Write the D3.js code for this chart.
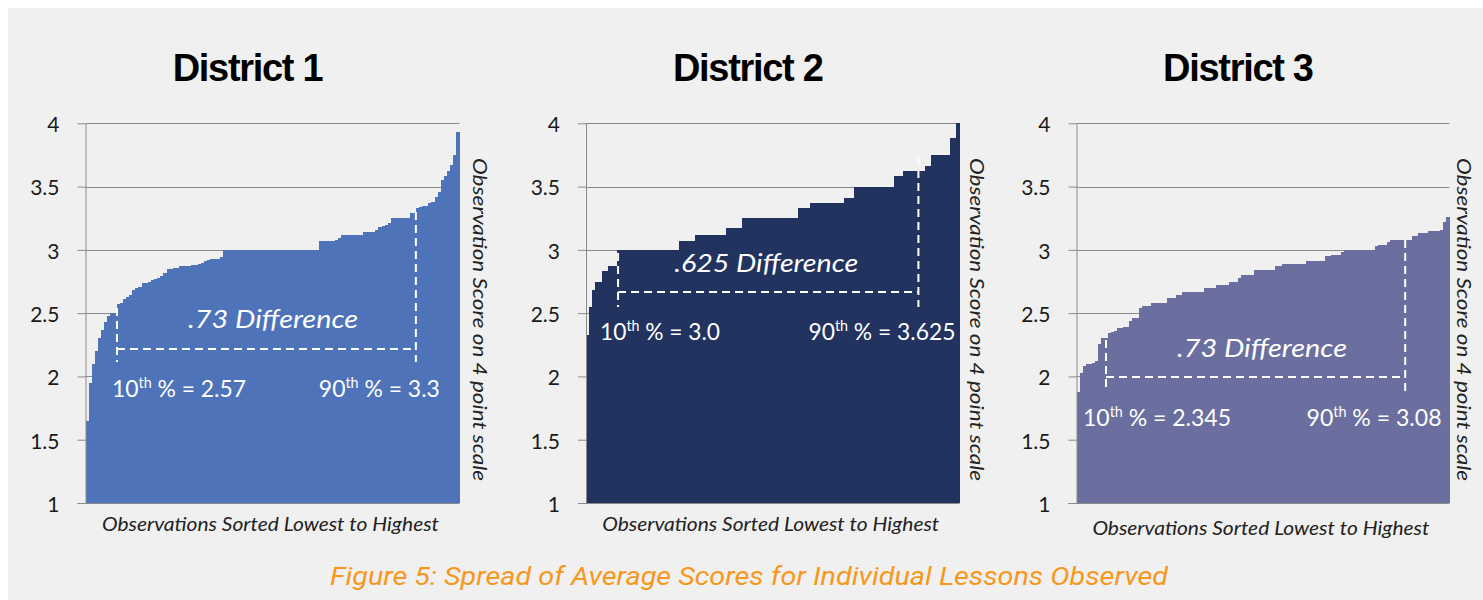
<!DOCTYPE html>
<html><head><meta charset="utf-8">
<script src="https://cdn.jsdelivr.net/npm/d3@7"></script>
<style>html,body{margin:0;padding:0;background:#fff;} svg{display:block}</style>
</head><body><svg id="c" width="1483" height="600"></svg>
<script>
// ---------- DATA ----------
const districtNames = ["District 1", "District 2", "District 3"];
const scoreTicks = [1, 1.5, 2, 2.5, 3, 3.5, 4];
const tickLabels = ["1", "1.5", "2", "2.5", "3", "3.5", "4"];
const xAxisTitle = "Observations Sorted Lowest to Highest";
const yAxisTitle = "Observation Score on 4 point scale";
const captionText = "Figure 5: Spread of Average Scores for Individual Lessons Observed";
const diffLabels = [".73 Difference", ".625 Difference", ".73 Difference"];
const p10Values = ["2.57", "3.0", "2.345"];
const p90Values = ["3.3", "3.625", "3.08"];

// sorted average observation scores (one value per observation)
const district1 = [
  1.65, 1.95, 2.10, 2.20, 2.30, 2.37, 2.43, 2.48, 2.50, 2.50,
  2.57, 2.58, 2.61, 2.63, 2.64, 2.68, 2.70, 2.71, 2.74, 2.74,
  2.75, 2.76, 2.77, 2.78, 2.79, 2.82, 2.85, 2.85, 2.86, 2.86,
  2.87, 2.87, 2.87, 2.87, 2.88, 2.88, 2.89, 2.90, 2.91, 2.92,
  2.93, 2.93, 2.93, 2.94, 3.00, 3.00, 3.00, 3.00, 3.00, 3.00,
  3.00, 3.00, 3.00, 3.00, 3.00, 3.00, 3.00, 3.00, 3.00, 3.00,
  3.00, 3.00, 3.00, 3.00, 3.00, 3.00, 3.00, 3.00, 3.00, 3.00,
  3.00, 3.00, 3.00, 3.00, 3.00, 3.07, 3.07, 3.07, 3.07, 3.07,
  3.08, 3.09, 3.12, 3.12, 3.12, 3.12, 3.12, 3.12, 3.12, 3.14,
  3.14, 3.14, 3.14, 3.16, 3.18, 3.19, 3.20, 3.21, 3.25, 3.25,
  3.25, 3.25, 3.25, 3.25, 3.29, 3.29, 3.33, 3.34, 3.35, 3.35,
  3.37, 3.38, 3.42, 3.46, 3.55, 3.58, 3.62, 3.67, 3.75, 3.93
];
const district2 = [
  2.33, 2.55, 2.68, 2.75, 2.75, 2.83, 2.83, 2.87, 2.87, 2.87,
  3.00, 3.00, 3.00, 3.00, 3.00, 3.00, 3.00, 3.00, 3.00, 3.00,
  3.00, 3.00, 3.00, 3.00, 3.00, 3.00, 3.00, 3.00, 3.00, 3.00,
  3.07, 3.07, 3.07, 3.07, 3.07, 3.12, 3.12, 3.12, 3.12, 3.12,
  3.12, 3.12, 3.12, 3.12, 3.12, 3.17, 3.17, 3.17, 3.17, 3.17,
  3.25, 3.25, 3.25, 3.25, 3.25, 3.25, 3.25, 3.25, 3.25, 3.25,
  3.25, 3.25, 3.25, 3.25, 3.25, 3.25, 3.25, 3.25, 3.33, 3.33,
  3.33, 3.33, 3.37, 3.37, 3.37, 3.37, 3.37, 3.37, 3.37, 3.37,
  3.37, 3.37, 3.37, 3.41, 3.41, 3.41, 3.50, 3.50, 3.50, 3.50,
  3.50, 3.50, 3.50, 3.50, 3.50, 3.50, 3.50, 3.50, 3.50, 3.58,
  3.58, 3.58, 3.62, 3.62, 3.62, 3.62, 3.62, 3.62, 3.62, 3.66,
  3.66, 3.75, 3.75, 3.75, 3.75, 3.75, 3.75, 3.88, 3.88, 4.00
];
const district3 = [
  1.88, 2.03, 2.08, 2.10, 2.10, 2.11, 2.12, 2.26, 2.30, 2.30,
  2.34, 2.35, 2.36, 2.38, 2.38, 2.39, 2.39, 2.44, 2.46, 2.46,
  2.54, 2.56, 2.56, 2.56, 2.58, 2.58, 2.58, 2.58, 2.58, 2.62,
  2.62, 2.62, 2.64, 2.64, 2.67, 2.67, 2.67, 2.67, 2.67, 2.67,
  2.67, 2.70, 2.70, 2.70, 2.70, 2.72, 2.72, 2.72, 2.72, 2.75,
  2.75, 2.75, 2.78, 2.80, 2.80, 2.80, 2.80, 2.84, 2.84, 2.84,
  2.84, 2.84, 2.84, 2.84, 2.87, 2.87, 2.89, 2.89, 2.89, 2.89,
  2.89, 2.89, 2.89, 2.89, 2.91, 2.91, 2.91, 2.91, 2.91, 2.91,
  2.95, 2.95, 2.96, 2.96, 2.96, 2.98, 3.00, 3.00, 3.00, 3.00,
  3.00, 3.00, 3.00, 3.00, 3.00, 3.00, 3.03, 3.04, 3.04, 3.04,
  3.06, 3.08, 3.08, 3.08, 3.08, 3.08, 3.08, 3.08, 3.11, 3.11,
  3.13, 3.13, 3.13, 3.15, 3.15, 3.15, 3.15, 3.16, 3.22, 3.26
];
const series = [district1, district2, district3];

// ---------- LAYOUT ----------
const panels = [
  {x0: 85.5,  x1: 459.5,  color: "#4e73b9", xTitleY: 531, yTitleX: 473},
  {x0: 586,   x1: 959.5,  color: "#22335f", xTitleY: 531, yTitleX: 970},
  {x0: 1076.5, x1: 1449.3, color: "#6a6fa0", xTitleY: 535, yTitleX: 1457}
];
// annotation anchors, in data units (observation position, score)
const annots = [
  {p10: 10.1, p90: 106.0, hLine: 2.217, bottom: 2.114, leftTop: 2.54, rightTop: 3.30,
   diffX: 60.2, diffY: 2.383, diffW: 170, pctY: 1.837, p10X: 8.5, p90X: 113.7, p10W: 134, p90W: 121},
  {p10: 10.3, p90: 106.8, hLine: 2.667, bottom: 2.549, leftTop: 2.975, rightTop: 3.734,
   diffX: 57.9, diffY: 2.825, diffW: 184, pctY: 2.288, p10X: 4.5, p90X: 118.7, p10W: 120, p90W: 147},
  {p10: 9.5, p90: 105.8, hLine: 1.996, bottom: 1.885, leftTop: 2.288, rightTop: 3.078,
   diffX: 59.7, diffY: 2.153, diffW: 170, pctY: 1.608, p10X: 2.1, p90X: 117.5, p10W: 148, p90W: 135}
];

const svg = d3.select("#c");
svg.append("rect").attr("x", 8).attr("y", 8).attr("width", 1475).attr("height", 592).attr("fill", "#f0f0f0");

const y = d3.scaleLinear().domain([1, 4]).range([503, 123.3]);
const gridColor = "#8a8a8a";

panels.forEach((p, k) => {
  const data = series[k];
  const x = d3.scaleLinear().domain([0, data.length]).range([p.x0, p.x1]);
  const g = svg.append("g");

  // gridlines
  g.append("g").selectAll("line").data(scoreTicks.filter(t => t > 1)).join("line")
    .attr("x1", p.x0).attr("x2", p.x1)
    .attr("y1", d => Math.round(y(d)) + 0.5).attr("y2", d => Math.round(y(d)) + 0.5)
    .attr("stroke", gridColor).attr("stroke-width", 1);

  // bars
  g.append("g").selectAll("rect").data(data).join("rect")
    .attr("x", (d, i) => x(i))
    .attr("width", (d, i) => x(i + 1) - x(i) + 0.6)
    .attr("y", d => y(d))
    .attr("height", d => y(1) - y(d))
    .attr("fill", p.color)
    .attr("shape-rendering", "crispEdges");

  // baseline
  g.append("line").attr("x1", p.x0 - 8).attr("x2", p.x1)
    .attr("y1", Math.round(y(1)) + 0.5).attr("y2", Math.round(y(1)) + 0.5)
    .attr("stroke", gridColor).attr("stroke-width", 1);

  // y axis
  const ax = g.append("g").attr("transform", `translate(${p.x0},0)`)
    .call(d3.axisLeft(y).tickValues(scoreTicks).tickFormat((d, i) => tickLabels[i])
      .tickSizeInner(8).tickSizeOuter(0).tickPadding(18));
  ax.select(".domain").attr("stroke", gridColor);
  ax.selectAll(".tick line").attr("stroke", gridColor);
  ax.selectAll(".tick text").attr("font-family", "Lato, 'Open Sans', sans-serif")
    .attr("font-size", 21).attr("fill", "#1a1a1a").attr("dy", "0.40em");

  // title
  g.append("text").attr("x", (p.x0 + p.x1) / 2 - 25).attr("y", 81)
    .attr("text-anchor", "middle").attr("font-family", "'Liberation Sans', Arial, sans-serif")
    .attr("font-weight", "bold").attr("font-size", 38).attr("letter-spacing", "-1.3px")
    .attr("fill", "#000").text(districtNames[k]);

  // x title
  g.append("text").attr("x", (p.x0 + p.x1) / 2 - 2).attr("y", p.xTitleY)
    .attr("text-anchor", "middle").attr("font-family", "Lato, sans-serif")
    .attr("font-style", "italic").attr("font-size", 20).attr("fill", "#222")
    .attr("textLength", 337).attr("lengthAdjust", "spacingAndGlyphs")
    .text(xAxisTitle);

  // right rotated title
  g.append("text").attr("transform", `translate(${p.yTitleX},319.5) rotate(90)`)
    .attr("text-anchor", "middle").attr("font-family", "Lato, sans-serif")
    .attr("font-style", "italic").attr("font-size", 20).attr("fill", "#222")
    .attr("textLength", 323).attr("lengthAdjust", "spacingAndGlyphs")
    .text(yAxisTitle);

  // annotations
  const a = annots[k];
  const dash = {stroke: "#fff", "stroke-width": 2, "stroke-dasharray": "8,5"};
  const lines = [
    [x(a.p10), y(a.leftTop), x(a.p10), y(a.bottom)],
    [x(a.p90), y(a.rightTop), x(a.p90), y(a.bottom)],
    [x(a.p10), y(a.hLine), x(a.p90), y(a.hLine)]
  ];
  g.append("g").selectAll("line").data(lines).join("line")
    .attr("x1", d => d[0]).attr("y1", d => d[1]).attr("x2", d => d[2]).attr("y2", d => d[3])
    .attr("stroke", dash.stroke).attr("stroke-width", dash["stroke-width"])
    .attr("stroke-dasharray", dash["stroke-dasharray"]);

  g.append("text").attr("x", x(a.diffX)).attr("y", y(a.diffY))
    .attr("text-anchor", "middle").attr("font-family", "Lato, sans-serif")
    .attr("font-style", "italic").attr("font-size", 26).attr("fill", "#fff")
    .attr("textLength", a.diffW).attr("lengthAdjust", "spacingAndGlyphs")
    .text(diffLabels[k]);

  const pct = (xpos, anchor, ord, val, w) => {
    const t = g.append("text").attr("x", xpos).attr("y", y(a.pctY))
      .attr("text-anchor", anchor).attr("font-family", "Lato, sans-serif")
      .attr("font-size", 24).attr("fill", "#fff")
      .attr("textLength", w).attr("lengthAdjust", "spacingAndGlyphs");
    t.append("tspan").text(ord);
    t.append("tspan").attr("font-size", 15).attr("dy", -9).text("th");
    t.append("tspan").attr("dy", 9).text("\u00a0% = " + val);
  };
  pct(x(a.p10X), "start", "10", p10Values[k], a.p10W);
  pct(x(a.p90X), "end", "90", p90Values[k], a.p90W);
});

svg.append("text").attr("x", 749).attr("y", 585).attr("text-anchor", "middle")
  .attr("font-family", "Roboto, 'Open Sans', sans-serif").attr("font-style", "italic")
  .attr("font-size", 25).attr("fill", "#f7981d")
  .attr("textLength", 838).attr("lengthAdjust", "spacingAndGlyphs")
  .text(captionText);
</script></body></html>
